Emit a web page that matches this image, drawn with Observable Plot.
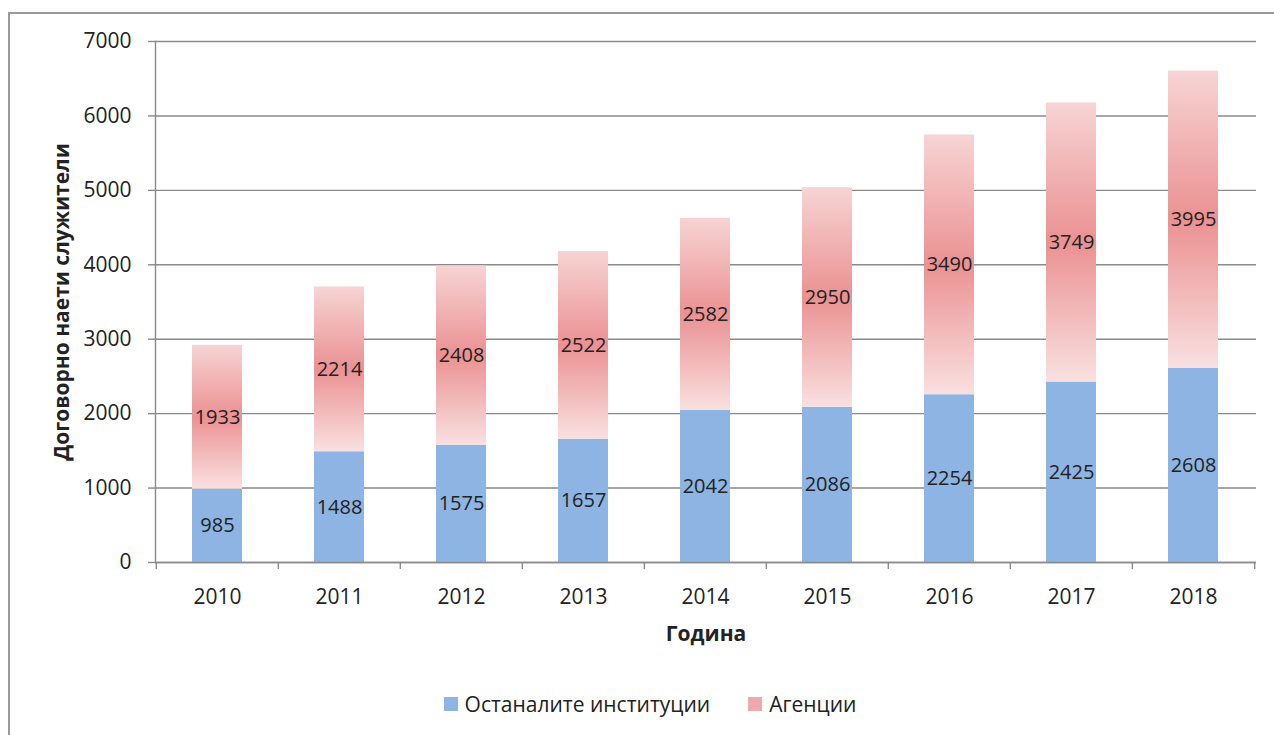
<!DOCTYPE html>
<html>
<head>
<meta charset="utf-8">
<script src="https://cdn.jsdelivr.net/npm/d3@7"></script>
<script src="https://cdn.jsdelivr.net/npm/@observablehq/plot@0.6"></script>
<style>
  html, body { margin: 0; padding: 0; background: #fff; }
  #wrap { position: relative; width: 1274px; height: 735px; overflow: hidden; font-family: "Open Sans", "Noto Sans", sans-serif; }
  #border { position: absolute; left: 8px; top: 12px; width: 1300px; height: 800px; border: 2px solid #9a9a9a; box-sizing: border-box; }
  #chart { position: absolute; left: 0; top: 0; }
  #legend { position: absolute; top: 690px; left: 0; width: 1274px; display: flex; justify-content: center; gap: 38px; font-size: 21px; color: #222; padding-left: 26px; box-sizing: border-box; }
  #legend .item { display: flex; align-items: center; gap: 7px; }
  #legend .sw { width: 14px; height: 14px; display: inline-block; }
</style>
</head>
<body>
<div id="wrap">
  <div id="border"></div>
  <div id="chart"></div>
  <div id="legend"></div>
</div>
<script>
const years = ["2010", "2011", "2012", "2013", "2014", "2015", "2016", "2017", "2018"];
const institutions = [985, 1488, 1575, 1657, 2042, 2086, 2254, 2425, 2608];
const agencies = [1933, 2214, 2408, 2522, 2582, 2950, 3490, 3749, 3995];
const yTicks = [0, 1000, 2000, 3000, 4000, 5000, 6000, 7000];
const seriesNames = ["Останалите институции", "Агенции"];
const yTitle = "Договорно наети служители";
const xTitle = "Година";

const blue = "#8db4e2";
const rows = years.map((y, i) => ({year: y, inst: institutions[i], ag: agencies[i]}));

const W = 1274, H = 735, mL = 155, mR = 18, mT = 41, mB = 173;
const step = (W - mL - mR) / years.length;
const font = "Open Sans, Noto Sans, sans-serif";
const gray = "#8a8a8a";

const chart = Plot.plot({
  width: W, height: H,
  marginLeft: mL, marginRight: mR, marginTop: mT, marginBottom: mB,
  style: {fontFamily: font, fontSize: "21px", color: "#222", background: "transparent", overflow: "visible"},
  x: {type: "band", domain: years, paddingInner: 0.59, paddingOuter: 0.295, label: null},
  y: {domain: [0, 7000], label: null},
  marks: [
    Plot.gridY(yTicks, {stroke: gray, strokeOpacity: 1, strokeWidth: 1.4}),
    Plot.axisY(yTicks, {tickSize: 7, tickPadding: 17, stroke: gray, strokeOpacity: 1, strokeWidth: 1.4, fontSize: 21, label: null, tickFormat: d => String(d)}),
    Plot.frame({anchor: "left", stroke: gray, strokeWidth: 1.4}),
    Plot.barY(rows, {x: "year", y1: 0, y2: "inst", fill: blue}),
    Plot.barY(rows, {x: "year", y1: "inst", y2: d => d.inst + d.ag, fill: "url(#agGrad)"}),
    Plot.ruleY([0], {stroke: gray, strokeWidth: 1.4}),
    Plot.axisX({tickSize: 7, stroke: gray, strokeWidth: 1.4, strokeOpacity: 1, tickFormat: () => "", dx: -step / 2, label: null}),
    Plot.axisX(["2018"], {tickSize: 7, stroke: gray, strokeWidth: 1.4, strokeOpacity: 1, tickFormat: () => "", dx: step / 2, label: null}),
    Plot.axisX({tickSize: 0, tickPadding: 27, fontSize: 21, label: null}),
    Plot.text(rows, {x: "year", y: d => d.inst / 2, text: d => String(d.inst), fontSize: 20, fill: "#222"}),
    Plot.text(rows, {x: "year", y: d => d.inst + d.ag / 2, text: d => String(d.ag), fontSize: 20, fill: "#222"}),
    Plot.text([yTitle], {frameAnchor: "left", textAnchor: "middle", dx: -93, rotate: -90, text: d => d, fontSize: 21, fontWeight: "bold", fill: "#222"}),
    Plot.text([xTitle], {frameAnchor: "bottom", textAnchor: "middle", dy: 78, text: d => d, fontSize: 21, fontWeight: "bold", fill: "#222"})
  ]
});

// gradient for the agencies bars
const svg = d3.select(chart);
const defs = svg.insert("defs", ":first-child");
const g = defs.append("linearGradient").attr("id", "agGrad").attr("x1", 0).attr("y1", 0).attr("x2", 0).attr("y2", 1);
[[0, "#f7d4d4"], [0.5, "#eb9192"], [1, "#f9e0e0"]].forEach(([o, c]) => g.append("stop").attr("offset", o).attr("stop-color", c));

document.getElementById("chart").appendChild(chart);

const legendColors = [blue, "#eea9ab"];
const legend = document.getElementById("legend");
seriesNames.forEach((name, i) => {
  const item = document.createElement("div");
  item.className = "item";
  const sw = document.createElement("span");
  sw.className = "sw";
  sw.style.background = legendColors[i];
  const t = document.createElement("span");
  t.textContent = name;
  item.appendChild(sw); item.appendChild(t);
  legend.appendChild(item);
});
</script>
</body>
</html>
